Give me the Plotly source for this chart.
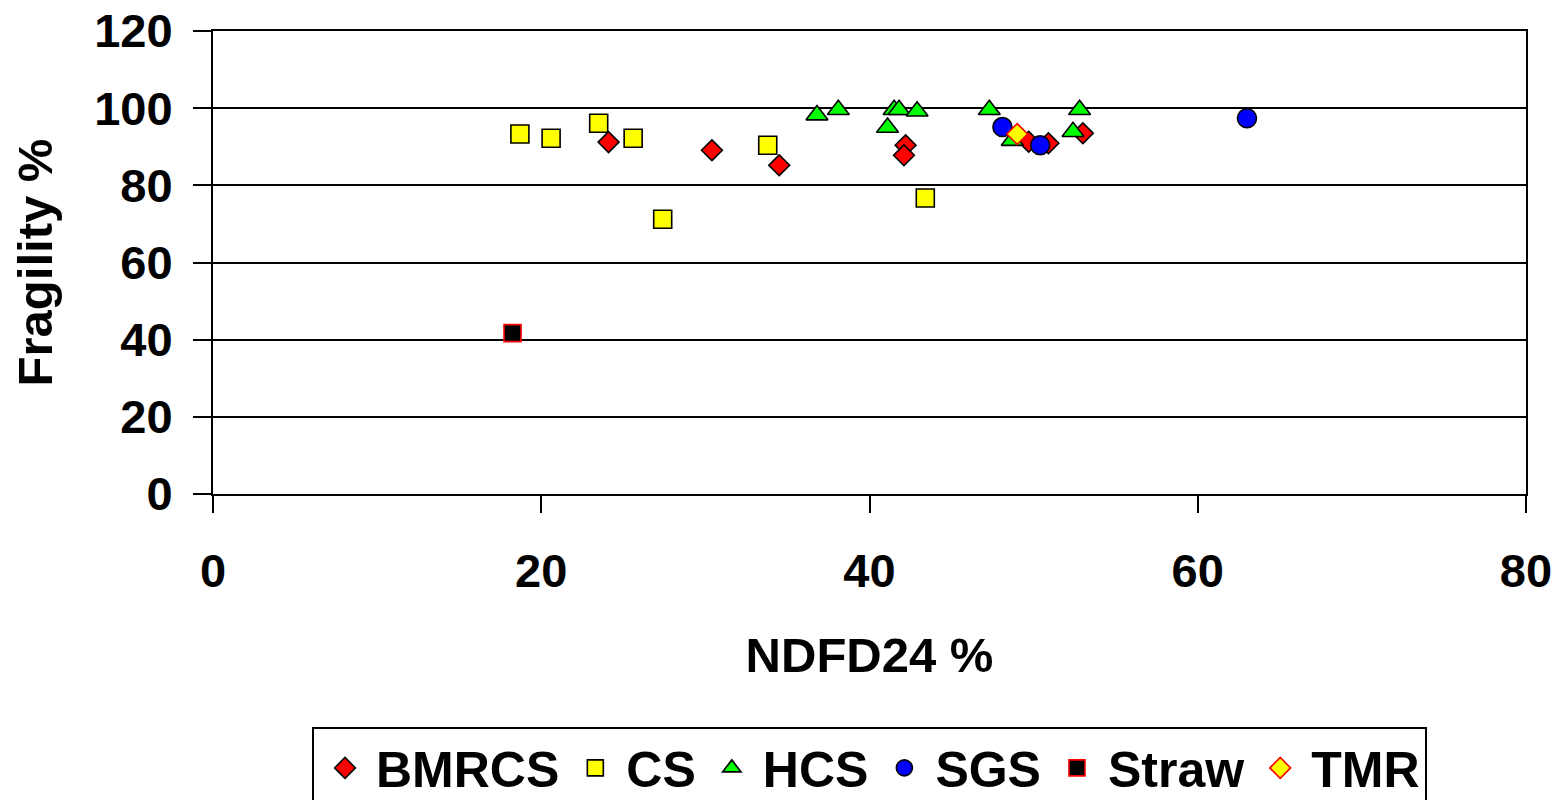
import plotly.graph_objects as go

# ---- data ----
bmrcs_x = [24.1, 30.4, 34.5, 42.2, 42.1, 49.7, 50.9, 53.0]
bmrcs_y = [91.2, 89.1, 85.2, 90.4, 87.8, 91.3, 90.9, 93.5]

cs_x = [18.7, 20.6, 23.5, 25.6, 27.4, 33.8, 43.4]
cs_y = [93.3, 92.2, 96.1, 92.2, 71.2, 90.4, 76.7]

hcs_x = [36.8, 38.1, 41.5, 41.8, 42.9, 41.1, 47.3, 48.7, 52.8, 52.4]
hcs_y = [98.2, 99.6, 99.6, 99.6, 99.2, 95.0, 99.6, 91.6, 99.6, 93.9]

sgs_x = [48.1, 50.4, 63.0]
sgs_y = [95.1, 90.4, 97.4]

straw_x = [18.25]
straw_y = [41.7]

tmr_x = [49.0]
tmr_y = [93.3]

FONT = "Liberation Sans, Arial, sans-serif"
TICK = dict(family=FONT, size=47, color="black", weight="bold")
TITLE = dict(family=FONT, size=49, color="black", weight="bold")

fig = go.Figure()

def add(name, xs, ys, symbol, size, fill, edge, rank):
    fig.add_trace(go.Scatter(
        x=xs, y=ys, mode="markers", name=name, legendrank=rank,
        marker=dict(symbol=symbol, size=size, color=fill,
                    line=dict(color=edge, width=1.6)),
    ))

# drawing order (CS under BMRCS), legend order via legendrank
add("CS", cs_x, cs_y, "square", 18, "#FFFF00", "#000000", 2)
add("BMRCS", bmrcs_x, bmrcs_y, "diamond", 16, "#FF0000", "#000000", 1)
add("HCS", hcs_x, hcs_y, "triangle-up", 19, "#00FF00", "#000000", 3)
add("SGS", sgs_x, sgs_y, "circle", 19, "#0000FF", "#000000", 4)
add("Straw", straw_x, straw_y, "square", 17, "#000000", "#FF0000", 5)
add("TMR", tmr_x, tmr_y, "diamond", 16, "#FFFF00", "#FF0000", 6)

# page body has an 8px margin, so the figure is shifted by 8px
fig.update_layout(
    width=1559, height=792,
    paper_bgcolor="white", plot_bgcolor="white",
    margin=dict(l=205, r=41, t=23, b=306, autoexpand=False),
    font=dict(family=FONT, size=47, color="black"),
    showlegend=True,
    legend=dict(
        orientation="h", x=0.5, xanchor="center", y=-0.503, yanchor="top",
        bordercolor="black", borderwidth=2, bgcolor="white",
        font=dict(family=FONT, size=50, color="black", weight="bold"),
        itemsizing="trace", itemwidth=52, tracegroupgap=0,
    ),
    xaxis=dict(
        range=[0, 80], tickvals=[0, 20, 40, 60, 80],
        showgrid=False, zeroline=False,
        showline=True, linecolor="black", linewidth=2, mirror=True,
        ticks="outside", ticklen=17, tickwidth=2, tickcolor="black",
        ticklabelstandoff=18, ticklabeloverflow="allow",
        tickfont=TICK,
        title=dict(text="NDFD24 %", standoff=41, font=TITLE),
    ),
    yaxis=dict(
        range=[0, 120], tickvals=[0, 20, 40, 60, 80, 100, 120],
        showgrid=True, gridcolor="black", gridwidth=1.5,
        zeroline=False,
        showline=True, linecolor="black", linewidth=2, mirror=True,
        ticks="outside", ticklen=18, tickwidth=2, tickcolor="black",
        ticklabelstandoff=11, ticklabeloverflow="allow",
        tickfont=TICK,
        title=dict(text="Fragility %", standoff=32, font=TITLE),
    ),
)

fig.write_html("out.html")
